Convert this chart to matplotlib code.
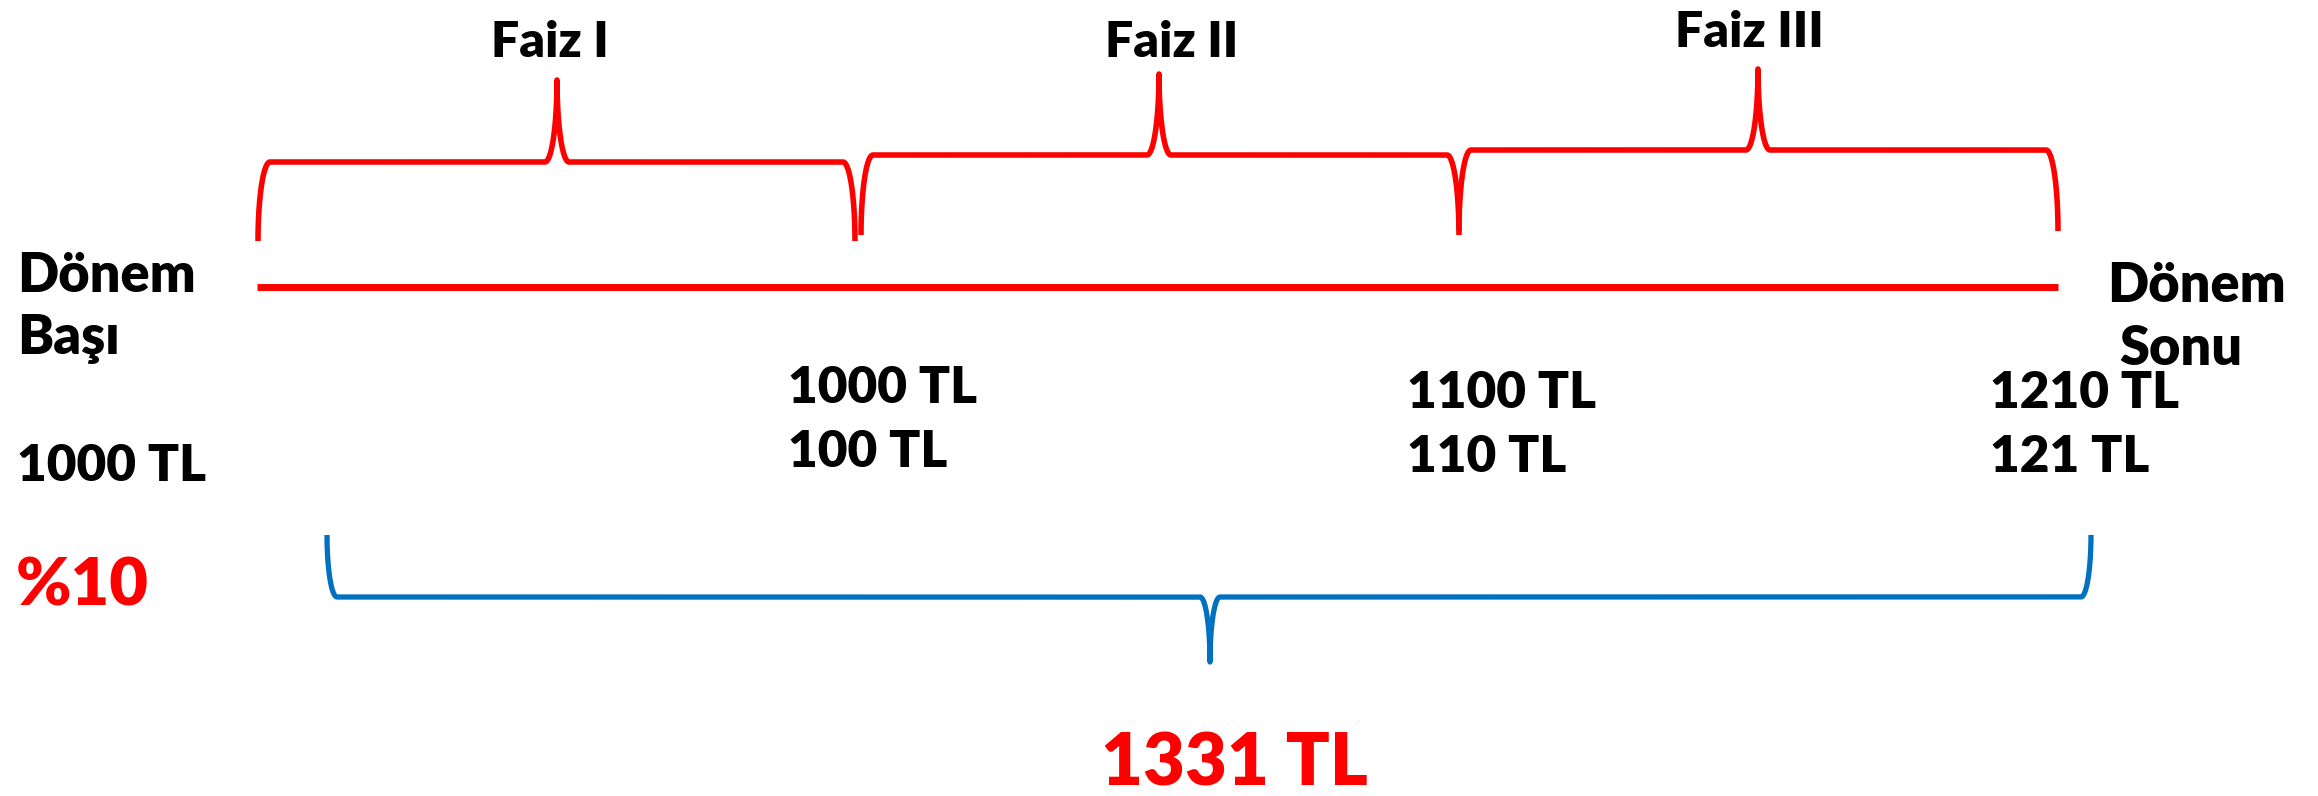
import numpy as np
import matplotlib.pyplot as plt

plt.rcParams['font.family'] = ['Lato', 'DejaVu Sans']
plt.rcParams['font.weight'] = 'heavy'

RED = '#FF0000'
BLUE = '#0070C0'

# timeline (pixel coordinates of the picture)
line_x = [257, 2058]
line_y = 287

# upper braces (one per interest period)
brace_labels = ['Faiz I', 'Faiz II', 'Faiz III']
brace_left = [258, 861, 1459]
brace_right = [855, 1459, 2058]
brace_tip = [557, 1159, 1758]
brace_end_y = [241, 235, 231]
brace_bar_y = [162, 155, 150]
brace_tip_y = [80, 74, 69]
label_x = [491, 1105, 1675]
label_y = [57, 57, 47]

# lower total brace
total_left, total_right, total_tip = 327, 2091, 1210
total_end_y, total_bar_y, total_tip_y = 535, 597, 662

# amounts under the timeline
amount_lines = [['1000 TL', '100 TL'], ['1100 TL', '110 TL'], ['1210 TL', '121 TL']]
amount_x = [788, 1407, 1990]
amount_y = [403, 408, 408]
line_step = 64


def brace(x0, x1, xt, y_end, y_bar, y_tip, rx=12, n=60):
    t = np.linspace(0, np.pi / 2, n)
    xs = np.concatenate([
        x0 + rx * (1 - np.cos(t)),
        xt - rx + rx * np.sin(t),
        xt + rx * (1 - np.cos(t)),
        x1 - rx + rx * np.sin(t),
    ])
    ys = np.concatenate([
        y_end + (y_bar - y_end) * np.sin(t),
        y_bar + (y_tip - y_bar) * (1 - np.cos(t)),
        y_tip + (y_bar - y_tip) * np.sin(t),
        y_bar + (y_end - y_bar) * (1 - np.cos(t)),
    ])
    return xs, ys


fig = plt.figure(figsize=(23.18, 7.96), dpi=100)
ax = fig.add_axes([0, 0, 1, 1])
ax.set_xlim(0, 2318)
ax.set_ylim(796, 0)
ax.axis('off')

ax.plot(line_x, [line_y, line_y], color=RED, lw=5, solid_capstyle='butt')

for i in range(3):
    xs, ys = brace(brace_left[i], brace_right[i], brace_tip[i],
                   brace_end_y[i], brace_bar_y[i], brace_tip_y[i], rx=12)
    ax.plot(xs, ys, color=RED, lw=4, solid_capstyle='butt', solid_joinstyle='round')
    ax.text(label_x[i], label_y[i], brace_labels[i], fontsize=36, va='baseline', ha='left')

xs, ys = brace(total_left, total_right, total_tip, total_end_y, total_bar_y, total_tip_y, rx=10)
ax.plot(xs, ys, color=BLUE, lw=3.8, solid_capstyle='butt', solid_joinstyle='round')

for lines, x, y in zip(amount_lines, amount_x, amount_y):
    for k, s in enumerate(lines):
        ax.text(x, y + k * line_step, s, fontsize=37, va='baseline', ha='left')

ax.text(17, 292, 'Dönem', fontsize=39, va='baseline', ha='left')
ax.text(17, 354, 'Başı', fontsize=39, va='baseline', ha='left')
ax.text(2107, 302, 'Dönem', fontsize=39, va='baseline', ha='left')
ax.text(2119, 365, 'Sonu', fontsize=39, va='baseline', ha='left')
ax.text(17, 481, '1000 TL', fontsize=37, va='baseline', ha='left')
ax.text(16, 606, '%10', fontsize=48, va='baseline', ha='left', color=RED)
ax.text(1101, 786, '1331 TL', fontsize=52, va='baseline', ha='left', color=RED)

fig.savefig('out.png', dpi=100)
